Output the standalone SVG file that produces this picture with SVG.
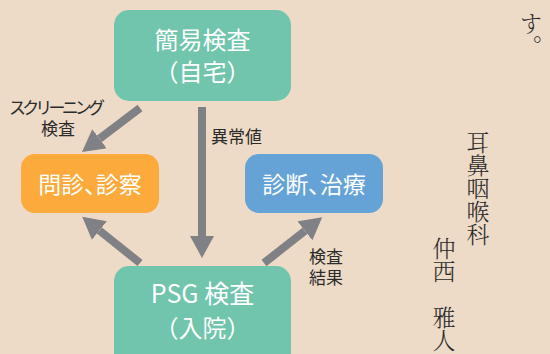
<svg xmlns="http://www.w3.org/2000/svg" width="550" height="354" viewBox="0 0 550 354">
<defs>
<style>
.box text{fill:#fff;font-family:"Noto Sans CJK JP","Noto Sans",sans-serif;text-anchor:middle}
.palt{font-feature-settings:"palt"}
.lbl{fill:#2b2b2b;font-family:"Noto Sans CJK JP","Noto Sans",sans-serif;font-size:17px}
.vt{fill:#2a2a2a;font-family:"Noto Serif CJK JP","Noto Sans CJK JP",serif;font-size:23px;writing-mode:vertical-rl;font-weight:300}
.shaft{stroke:#808184;stroke-width:8;fill:none}
</style>
<marker id="ah" markerUnits="userSpaceOnUse" markerWidth="22" markerHeight="24" viewBox="0 0 22 24" refX="0" refY="12" orient="auto">
<path d="M0,0 L22,12 L0,24 z" fill="#808184"/>
</marker>
</defs>
<rect width="550" height="354" fill="#EDDBC7"/>
<g id="connectors">
<line class="shaft" x1="202" y1="107" x2="202" y2="236" marker-end="url(#ah)"/>
<line class="shaft" x1="140" y1="108" x2="99.5" y2="138.7" marker-end="url(#ah)"/>
<line class="shaft" x1="140" y1="263" x2="99.4" y2="230.5" marker-end="url(#ah)"/>
<line class="shaft" x1="264" y1="263" x2="304.9" y2="230.9" marker-end="url(#ah)"/>
</g>
<g id="node-kani" class="box">
<rect x="114" y="10" width="177" height="91" rx="15" fill="#70C5AC"/>
<text x="202.5" y="49" font-size="24">簡易検査</text>
<text x="202.5" y="81" font-size="24">（自宅）</text>
</g>
<g id="node-monshin" class="box">
<rect x="21" y="154" width="138" height="59" rx="14" fill="#FBAA3B"/>
<text class="palt" x="90" y="193" font-size="23">問診、診察</text>
</g>
<g id="node-shindan" class="box">
<rect x="245" y="154" width="138" height="59" rx="14" fill="#65A3D7"/>
<text class="palt" x="314" y="193" font-size="23">診断、治療</text>
</g>
<g id="node-psg" class="box">
<rect x="114" y="266" width="177" height="110" rx="15" fill="#70C5AC"/>
<text x="202.5" y="303" font-size="25">PSG 検査</text>
<text x="202.5" y="337" font-size="24">（入院）</text>
</g>
<g id="labels">
<text class="lbl"><tspan x="9" y="114" textLength="96" lengthAdjust="spacing">スクリーニング</tspan><tspan x="41" y="135">検査</tspan></text>
<text class="lbl" x="211" y="143">異常値</text>
<text class="lbl"><tspan x="309" y="263">検査</tspan><tspan x="309" y="284">結果</tspan></text>
</g>
<g id="side-text">
<text class="vt" x="531" y="12">す。</text>
<text class="vt" x="478" y="131">耳鼻咽喉科</text>
<text class="vt" x="444" y="237">仲西　雅人</text>
</g>
</svg>
